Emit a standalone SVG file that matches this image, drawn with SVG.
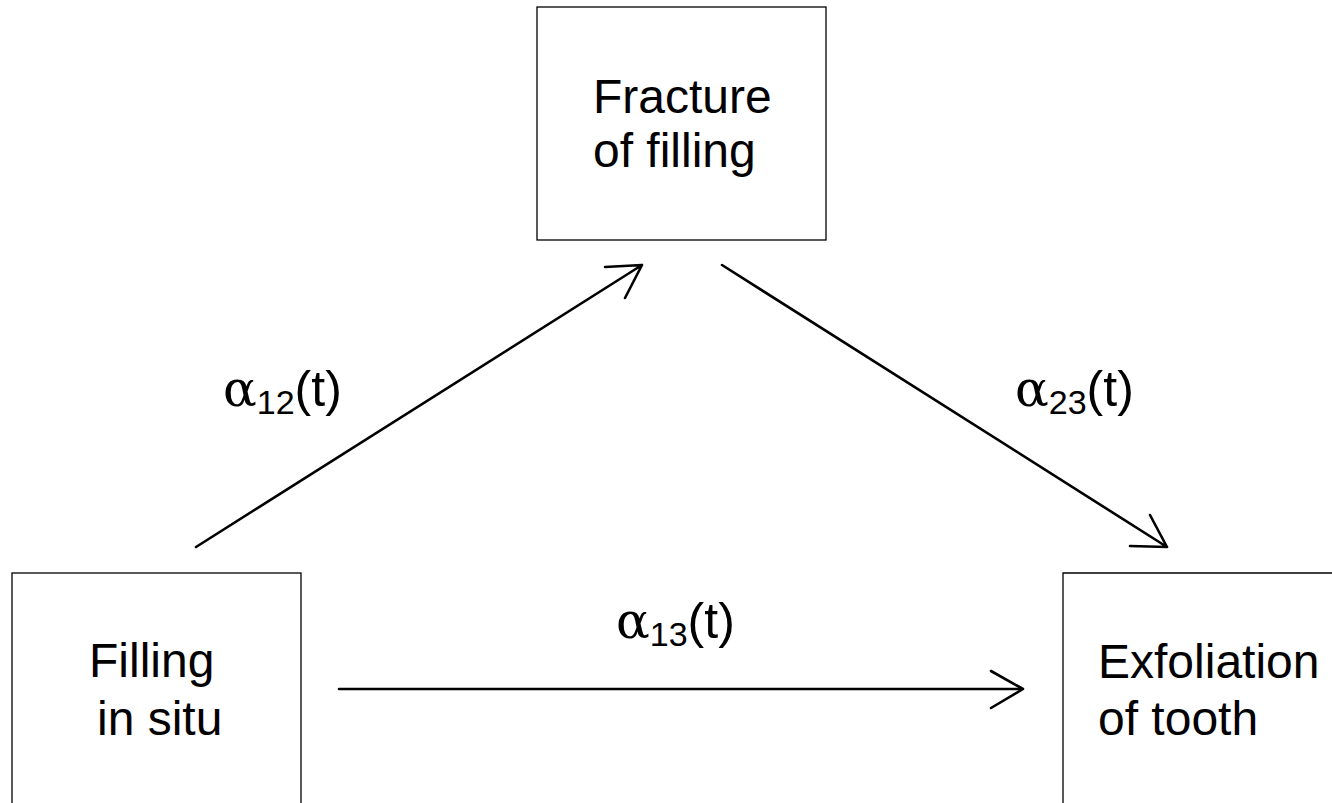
<svg xmlns="http://www.w3.org/2000/svg" width="1332" height="803" viewBox="0 0 1332 803">
<defs>
<style>
.box{fill:#fff;stroke:#000;stroke-width:1.3}
.t{font-family:"Liberation Sans",Arial,sans-serif;font-size:48px;fill:#000}
.lab{font-family:"Liberation Sans",Arial,sans-serif;font-size:50px;fill:#000}
.al{font-family:"DejaVu Serif","Liberation Serif",serif;font-size:50px}
.sub{font-size:34px}
.c{fill:none;stroke:#000;stroke-width:2.6;stroke-linecap:round;stroke-linejoin:round}
</style>
</defs>
<rect width="1332" height="803" fill="#fff"/>
<g id="node-fracture">
<rect class="box" x="537" y="7" width="289" height="233"/>
<text class="t" x="593" y="113">Fracture</text>
<text class="t" x="593" y="167">of filling</text>
</g>
<g id="node-filling">
<rect class="box" x="12" y="573" width="289" height="260"/>
<text class="t" x="89" y="677">Filling</text>
<text class="t" x="97" y="735">in situ</text>
</g>
<g id="node-exfoliation">
<path class="box" d="M1340,573 H1063 V810"/>
<text class="t" x="1098" y="678">Exfoliation</text>
<text class="t" x="1098" y="735">of tooth</text>
</g>
<g id="connectors">
<path class="c" d="M196,547 L642,265 M605,267 L642,265 L625,298"/>
<path class="c" d="M722,265 L1167,547 M1130,546 L1167,547 L1150,515"/>
<path class="c" d="M339,689 L1023,689 M991,671 L1023,689 L991,708"/>
<text class="lab" x="223" y="406"><tspan class="al">α</tspan><tspan class="sub" dy="8">12</tspan><tspan dy="-8">(t)</tspan></text>
<text class="lab" x="1015" y="406"><tspan class="al">α</tspan><tspan class="sub" dy="8">23</tspan><tspan dy="-8">(t)</tspan></text>
<text class="lab" x="616" y="638"><tspan class="al">α</tspan><tspan class="sub" dy="8">13</tspan><tspan dy="-8">(t)</tspan></text>
</g>
</svg>
